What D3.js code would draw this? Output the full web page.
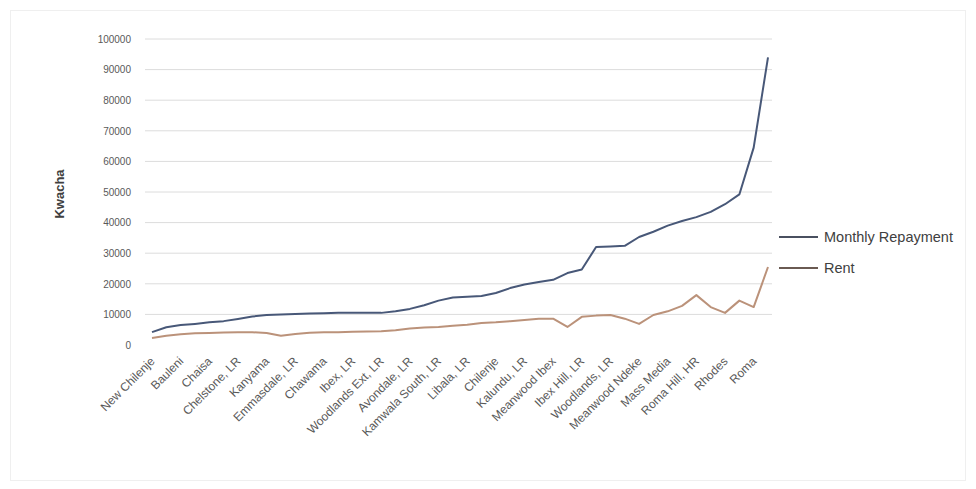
<!DOCTYPE html>
<html>
<head>
<meta charset="utf-8">
<script src="https://cdn.jsdelivr.net/npm/d3@7"></script>
<style>
  html, body { margin: 0; padding: 0; background: #fff; }
  svg { display: block; font-family: "Liberation Sans", Arial, sans-serif; }
</style>
</head>
<body>
<svg id="chart" width="976" height="489"></svg>
<script>
// Area names shown on every second category along the x axis
const tickLabels = [
  "New Chilenje", "Bauleni", "Chaisa", "Chelstone, LR", "Kanyama",
  "Emmasdale, LR", "Chawama", "Ibex, LR", "Woodlands Ext, LR", "Avondale, LR",
  "Kamwala South, LR", "Libala, LR", "Chilenje", "Kalundu, LR", "Meanwood Ibex",
  "Ibex Hill, LR", "Woodlands, LR", "Meanwood Ndeke", "Mass Media", "Roma Hill, HR",
  "Rhodes", "Roma"
];

// Monthly repayment per area (Kwacha), ordered by size
const monthlyRepayment = [
  4200, 5800, 6500, 6900, 7400, 7800, 8500, 9300, 9800, 10000,
  10100, 10300, 10400, 10500, 10500, 10500, 10500, 11000, 11800, 13000,
  14500, 15500, 15800, 16000, 17000, 18600, 19800, 20600, 21300, 23500,
  24700, 32000, 32200, 32400, 35300, 37000, 39000, 40500, 41800, 43500,
  46000, 49200, 64500, 94000
];

// Monthly rent for the same areas (Kwacha)
const rent = [
  2300, 3000, 3500, 3800, 3900, 4100, 4200, 4200, 3900, 3000,
  3600, 4000, 4200, 4200, 4300, 4400, 4500, 4800, 5400, 5700,
  5900, 6300, 6600, 7200, 7400, 7800, 8200, 8600, 8600, 5900,
  9200, 9600, 9800, 8600, 6900, 9800, 11000, 12800, 16300, 12400,
  10500, 14500, 12400, 25500
];

const yTicks = [0, 10000, 20000, 30000, 40000, 50000, 60000, 70000, 80000, 90000, 100000];

const seriesNames = ["Monthly Repayment", "Rent"];
const seriesColors = ["#485878", "#bb927a"];
const legendColors = ["#4a5060", "#6a5a52"];

const svg = d3.select("#chart");

// faint outer frame of the chart area
svg.append("rect")
  .attr("x", 10.5).attr("y", 10.5)
  .attr("width", 955).attr("height", 470)
  .attr("fill", "none").attr("stroke", "#efefef");

const plot = { left: 145, right: 772, top: 39, bottom: 345 };

const idx = d3.range(monthlyRepayment.length);
const x = d3.scalePoint().domain(idx).range([152, 768]);
const y = d3.scaleLinear().domain([0, 100000]).range([plot.bottom, plot.top]);

// horizontal gridlines
svg.append("g")
  .selectAll("line")
  .data(yTicks.filter(d => d > 0))
  .join("line")
  .attr("x1", plot.left).attr("x2", plot.right)
  .attr("y1", d => y(d)).attr("y2", d => y(d))
  .attr("stroke", "#dcdcdc").attr("stroke-width", 1);

// y axis labels
const yAxis = d3.axisLeft(y).tickValues(yTicks).tickFormat(d3.format("d")).tickSize(0).tickPadding(0);
const gy = svg.append("g").attr("transform", `translate(131,0)`).call(yAxis);
gy.select(".domain").remove();
gy.selectAll("text").attr("fill", "#595959").attr("font-size", 10);

// y axis title
svg.append("text")
  .attr("transform", `translate(64,194) rotate(-90)`)
  .attr("text-anchor", "middle")
  .attr("font-size", 13).attr("font-weight", "bold").attr("fill", "#404040")
  .text("Kwacha");

// x axis labels on every second category
const xAxis = d3.axisBottom(x)
  .tickValues(idx.filter(i => i % 2 === 0))
  .tickFormat(i => tickLabels[i / 2])
  .tickSize(0).tickPadding(0);
const gx = svg.append("g").attr("transform", `translate(0,${plot.bottom + 14})`).call(xAxis);
gx.select(".domain").remove();
gx.selectAll("text")
  .attr("fill", "#595959").attr("font-size", 12)
  .attr("text-anchor", "end")
  .attr("dy", "0.35em").attr("y", 0)
  .attr("transform", "rotate(-45)");

// series lines
const line = d3.line().x((d, i) => x(i)).y(d => y(d));
[monthlyRepayment, rent].forEach((s, k) => {
  svg.append("path")
    .datum(s)
    .attr("d", line)
    .attr("fill", "none")
    .attr("stroke", seriesColors[k])
    .attr("stroke-width", 2)
    .attr("stroke-linejoin", "round");
});

// legend
const legend = svg.append("g");
seriesNames.forEach((name, k) => {
  const ly = 237 + k * 31;
  legend.append("line")
    .attr("x1", 779).attr("x2", 818)
    .attr("y1", ly).attr("y2", ly)
    .attr("stroke", legendColors[k]).attr("stroke-width", 2);
  legend.append("text")
    .attr("x", 824).attr("y", ly).attr("dy", "0.35em")
    .attr("font-size", 14.5).attr("fill", "#404040")
    .text(name);
});
</script>
</body>
</html>
